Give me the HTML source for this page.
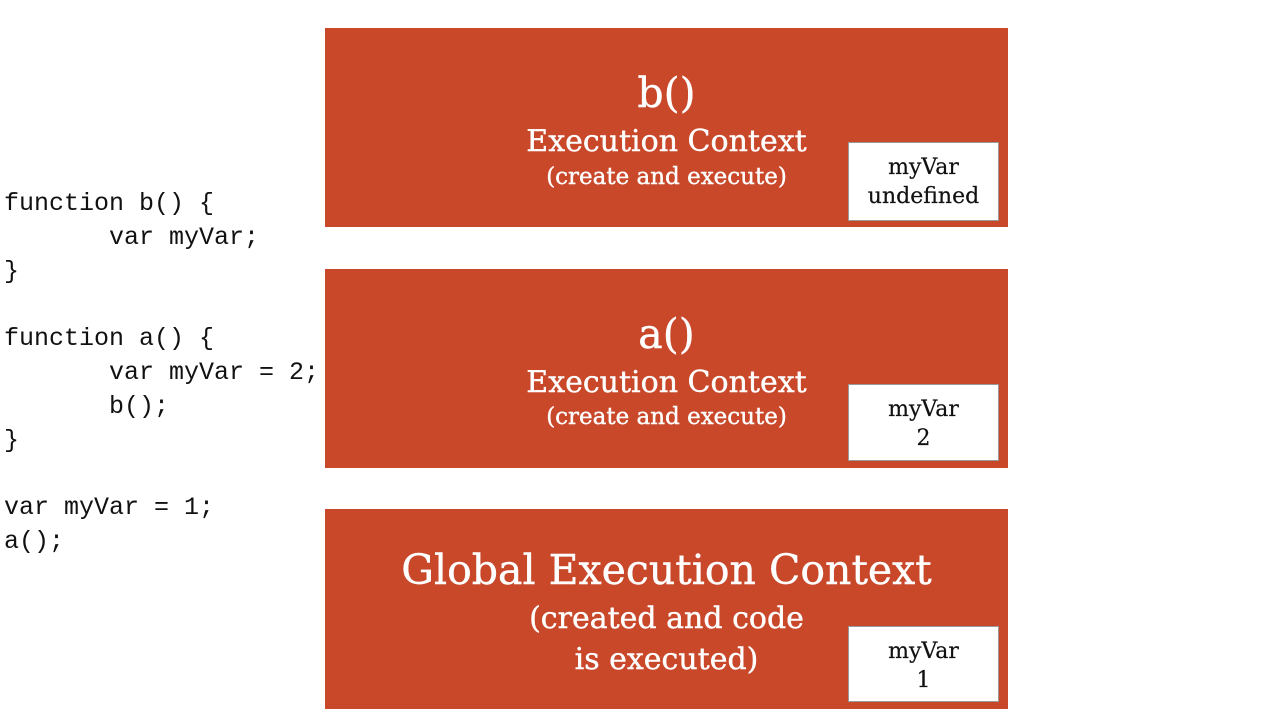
<!DOCTYPE html>
<html><head><meta charset="utf-8"><style>
body{margin:0;width:1284px;height:728px;background:#fff;position:relative;overflow:hidden;font-family:"DejaVu Serif",serif}
.code{position:absolute;left:4px;top:187px;font-family:"Liberation Mono","DejaVu Sans Mono",monospace;font-size:25px;line-height:33.8px;white-space:pre;color:#111}
.box{position:absolute;left:325px;width:683px;height:199px;background:#C9482A}
.t{position:absolute;left:0;width:683px;text-align:center;color:#fff;white-space:nowrap;line-height:1;-webkit-text-stroke:0.4px #fff}
.v{position:absolute;left:523px;width:151px;background:#fff;border:1px solid #999;box-sizing:border-box;text-align:center;font-size:22px;line-height:29px;color:#111;padding-top:10px;-webkit-text-stroke:0.2px #111}
</style></head><body>
<div class="code">function b() {
       var myVar;
}

function a() {
       var myVar = 2;
       b();
}

var myVar = 1;
a();</div>

<div class="box" style="top:28px">
 <div class="t" style="top:45px;font-size:41px">b()</div>
 <div class="t" style="top:99px;font-size:30px">Execution Context</div>
 <div class="t" style="top:138px;font-size:23px">(create and execute)</div>
 <div class="v" style="top:114px;height:79px">myVar<br>undefined</div>
</div>

<div class="box" style="top:269px">
 <div class="t" style="top:45px;font-size:41px">a()</div>
 <div class="t" style="top:99px;font-size:30px">Execution Context</div>
 <div class="t" style="top:137px;font-size:23px">(create and execute)</div>
 <div class="v" style="top:115px;height:77px">myVar<br>2</div>
</div>

<div class="box" style="top:509px;height:200px">
 <div class="t" style="top:41px;font-size:41px">Global Execution Context</div>
 <div class="t" style="top:95px;font-size:30px">(created and code</div>
 <div class="t" style="top:136px;font-size:30px">is executed)</div>
 <div class="v" style="top:117px;height:76px">myVar<br>1</div>
</div>
</body></html>
